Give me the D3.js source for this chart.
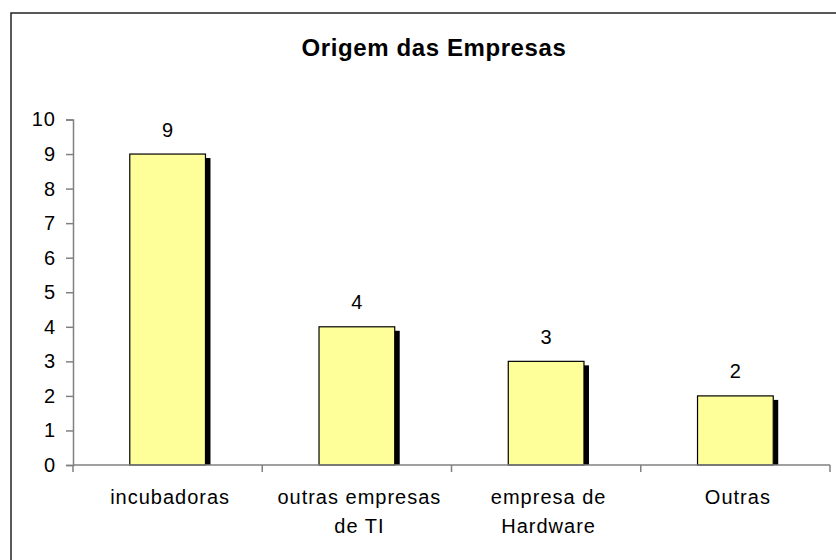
<!DOCTYPE html>
<html>
<head>
<meta charset="utf-8">
<script src="https://cdn.jsdelivr.net/npm/d3@7"></script>
<style>
  html, body { margin: 0; padding: 0; background: #fff; }
  svg { display: block; font-family: Arial, "Liberation Sans", sans-serif; }
</style>
</head>
<body>
<svg id="chart" width="836" height="560"></svg>
<script>
const chartTitle = "Origem das Empresas";
const categories = [["incubadoras"], ["outras empresas", "de TI"], ["empresa de", "Hardware"], ["Outras"]];
const values = [9, 4, 3, 2];
const yTicks = [0, 1, 2, 3, 4, 5, 6, 7, 8, 9, 10];

(function () {
const svg = d3.select("#chart");
const plotLeft = 73, plotRight = 830, plotTop = 119.5, plotBottom = 465;

// outer frame (right/bottom edges fall outside the picture)
svg.append("rect")
  .attr("x", 11).attr("y", 13)
  .attr("width", 860).attr("height", 600)
  .attr("fill", "#fff").attr("stroke", "#222").attr("stroke-width", 1.5);

const keys = categories.map((c, i) => i);
const x = d3.scaleBand().domain(keys).range([plotLeft, plotRight]).paddingInner(0.6).paddingOuter(0.3);
const y = d3.scaleLinear().domain([0, 10]).range([plotBottom, plotTop]);

// title
svg.append("text")
  .attr("x", 434).attr("y", 56)
  .attr("text-anchor", "middle")
  .attr("font-size", 24).attr("font-weight", "bold")
  .attr("letter-spacing", 0.6)
  .attr("fill", "#000")
  .text(chartTitle);

// shadows
svg.append("g").selectAll("rect").data(values).join("rect")
  .attr("x", (d, i) => x(i) + x.bandwidth())
  .attr("y", d => y(d) + 4)
  .attr("width", 5)
  .attr("height", d => y(0) - y(d) - 4)
  .attr("fill", "#000");

// bars
svg.append("g").selectAll("rect").data(values).join("rect")
  .attr("x", (d, i) => x(i))
  .attr("y", d => y(d))
  .attr("width", x.bandwidth())
  .attr("height", d => y(0) - y(d))
  .attr("fill", "#FFFF99")
  .attr("stroke", "#000").attr("stroke-width", 1.2);

// y axis
const yAxis = svg.append("g").attr("transform", `translate(${plotLeft},0)`)
  .call(d3.axisLeft(y).tickValues(yTicks).tickSize(7).tickPadding(10).tickFormat(d3.format("d")));
yAxis.select(".domain").attr("stroke", "#808080").attr("stroke-width", 1.5);
yAxis.selectAll(".tick line").attr("stroke", "#808080").attr("stroke-width", 1.5);
yAxis.selectAll(".tick text")
  .attr("font-size", 20).attr("letter-spacing", 1).attr("fill", "#000")
  .attr("font-family", "Arial, 'Liberation Sans', sans-serif");

// x axis line and category boundary ticks
svg.append("line")
  .attr("x1", plotLeft).attr("x2", plotRight).attr("y1", y(0)).attr("y2", y(0))
  .attr("stroke", "#808080").attr("stroke-width", 1.5);
const boundaries = d3.range(categories.length + 1).map(i => x.range()[0] + i * x.step());
svg.append("g").selectAll("line").data(boundaries).join("line")
  .attr("x1", d => d).attr("x2", d => d)
  .attr("y1", y(0)).attr("y2", y(0) + 7)
  .attr("stroke", "#808080").attr("stroke-width", 1.5);

// category labels
const catG = svg.append("g").selectAll("text").data(categories).join("text")
  .attr("text-anchor", "middle")
  .attr("font-size", 20).attr("letter-spacing", 1).attr("fill", "#000");
catG.each(function(lines, i) {
  const t = d3.select(this);
  lines.forEach((ln, j) => {
    t.append("tspan")
      .attr("x", x(i) + x.bandwidth() / 2 + 2.5)
      .attr("y", 504 + j * 29)
      .text(ln);
  });
});

// value labels
svg.append("g").selectAll("text").data(values).join("text")
  .attr("x", (d, i) => x(i) + x.bandwidth() / 2)
  .attr("y", d => y(d) - 17.5)
  .attr("text-anchor", "middle")
  .attr("font-size", 20).attr("fill", "#000")
  .text(d => d);
})();
</script>
</body>
</html>
